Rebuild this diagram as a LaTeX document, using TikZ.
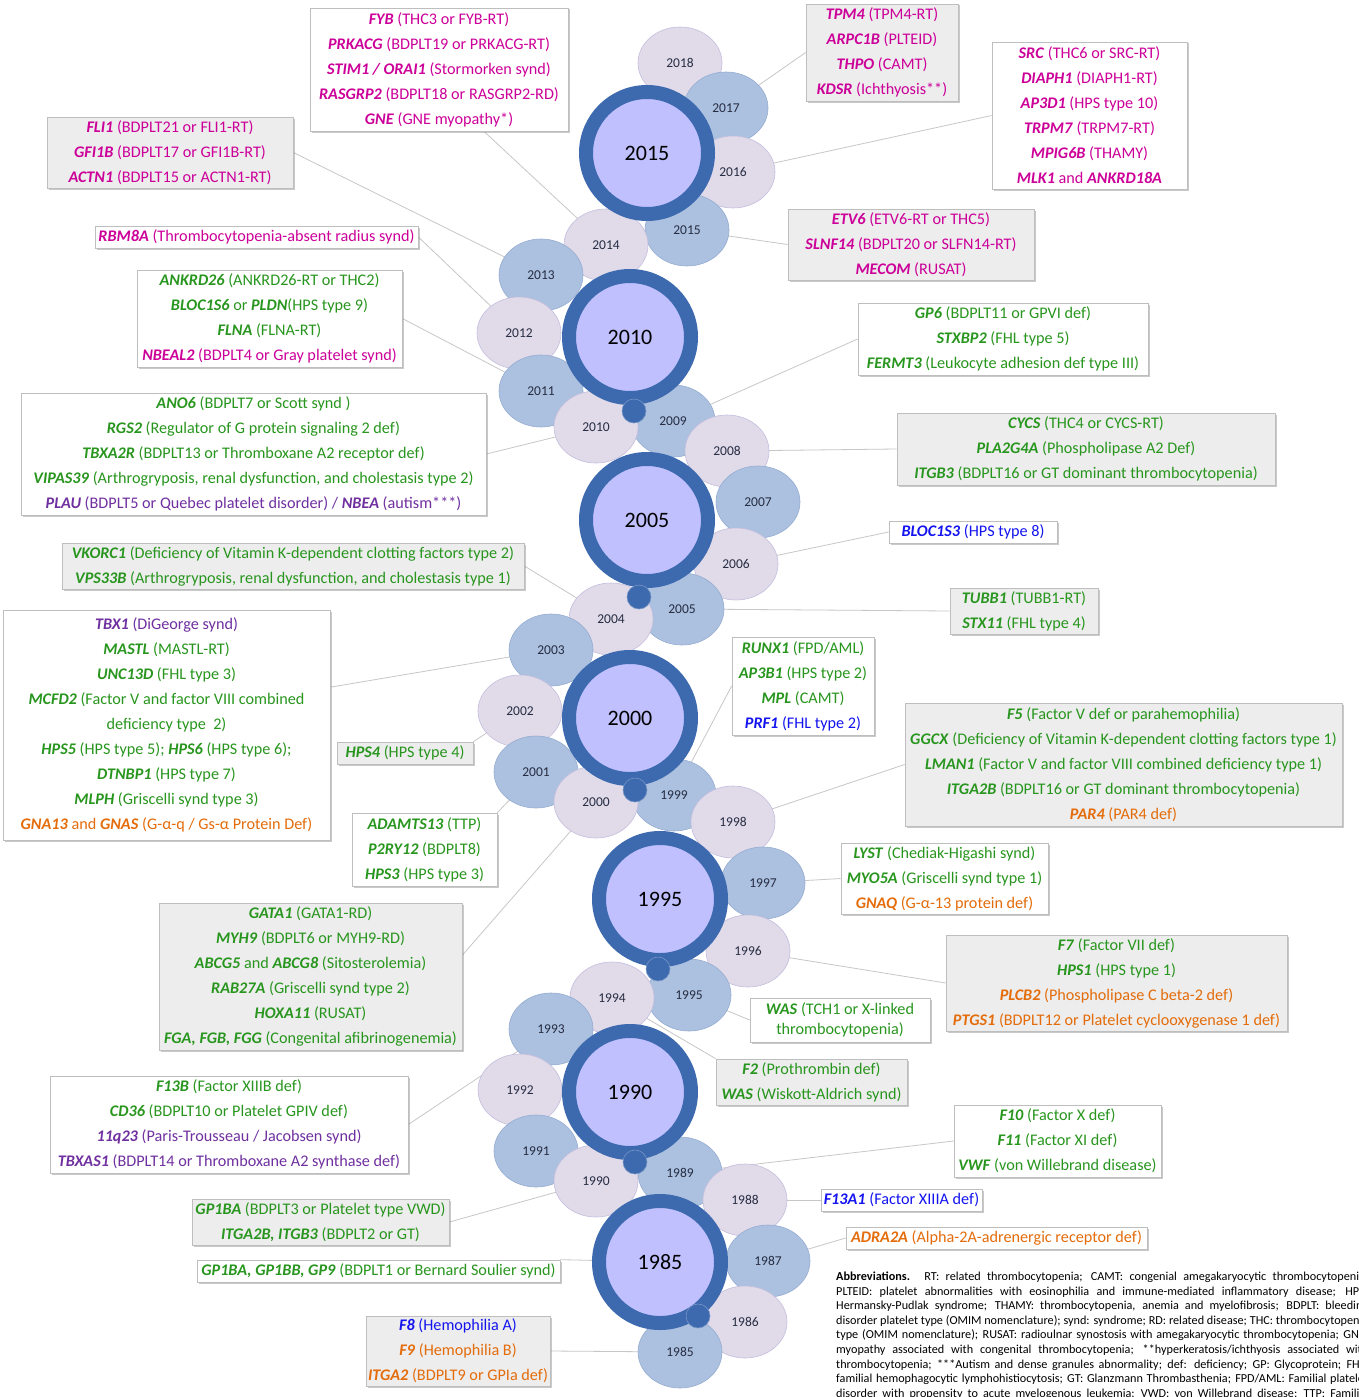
\documentclass[tikz,border=0pt]{standalone}
\usepackage{fontspec}
\setmainfont{Carlito}
\usetikzlibrary{shapes.geometric,shadows}
\definecolor{mag}{RGB}{204,0,153}
\definecolor{grn}{RGB}{40,150,30}
\definecolor{pur}{RGB}{112,48,160}
\definecolor{blu}{RGB}{20,20,240}
\definecolor{org}{RGB}{228,108,10}
\definecolor{ringc}{RGB}{61,105,174}
\definecolor{innerc}{RGB}{192,192,255}
\definecolor{lav}{RGB}{224,218,233}
\definecolor{lavedge}{RGB}{196,190,222}
\definecolor{stb}{RGB}{171,193,223}
\definecolor{stbedge}{RGB}{150,172,210}
\definecolor{boxgray}{RGB}{237,237,237}
\definecolor{edgegray}{RGB}{190,190,190}
\definecolor{yeartxt}{RGB}{38,44,66}
\newcommand\gene[1]{\textbf{\textit{#1}}}
\newcommand\gl[2]{\gene{#1} #2}
\pgfdeclarelayer{background}
\pgfsetlayers{background,main}
\begin{document}
\begin{tikzpicture}[x=1pt,y=-1pt,
  lbox/.style={draw=edgegray, line width=0.7pt, inner sep=0pt, align=center,
    font=\fontsize{16.2}{25}\selectfont,
    drop shadow={shadow xshift=1.5pt,shadow yshift=-1.5pt,opacity=0.35,fill=black!60}},
  wbox/.style={lbox, fill=white},
  gbox/.style={lbox, fill=boxgray},
  yr/.style={ellipse, minimum width=84pt, minimum height=72pt, inner sep=0pt,
    font=\fontsize{13.5}{14}\selectfont, text=yeartxt, line width=0.6pt},
  ylav/.style={yr, fill=lav, draw=lavedge},
  ystb/.style={yr, fill=stb, draw=stbedge},
  big/.style={circle, draw=ringc, line width=14pt, fill=innerc, minimum size=122pt,
    inner sep=0pt, font=\fontsize{22}{24}\selectfont},
  dot/.style={circle, fill=ringc, draw=ringc!70!white, line width=0.6pt, minimum size=24pt, inner sep=0pt},
  conn/.style={draw=black!22, line width=0.8pt},
  abl/.style={anchor=base west, inner sep=0pt, font=\fontsize{12.2}{14}\selectfont}
]
\useasboundingbox (0,0) rectangle (1358,1397);
\clip (0,0) rectangle (1358,1397);

% ---------- small year ellipses ----------
\node[ylav] (s2018) at (680,63) {2018};
\node[ystb] (s2017) at (726,108) {2017};
\node[ylav] (s2016) at (733,172) {2016};
\node[ystb] (s2015) at (687,230) {2015};
\node[ylav] (s2014) at (606,245) {2014};
\node[ystb] (s2013) at (541,275) {2013};
\node[ylav] (s2012) at (519,333) {2012};
\node[ystb] (s2011) at (541,391) {2011};
\node[ystb] (s2009) at (673,421) {2009};
\node[ylav] (s2010) at (596,427) {2010};
\node[ylav] (s2008) at (727,451) {2008};
\node[ystb] (s2007) at (758,502) {2007};
\node[ylav] (s2006) at (736,564) {2006};
\node[ystb] (s2005) at (682,609) {2005};
\node[ylav] (s2004) at (611,619) {2004};
\node[ystb] (s2003) at (551,650) {2003};
\node[ylav] (s2002) at (520,711) {2002};
\node[ystb] (s2001) at (536,772) {2001};
\node[ystb] (s1999) at (674,795) {1999};
\node[ylav] (s2000) at (596,802) {2000};
\node[ylav] (s1998) at (733,822) {1998};
\node[ystb] (s1997) at (763,883) {1997};
\node[ylav] (s1996) at (748,951) {1996};
\node[ystb] (s1995) at (689,995) {1995};
\node[ylav] (s1994) at (612,998) {1994};
\node[ystb] (s1993) at (551,1029) {1993};
\node[ylav] (s1992) at (520,1090) {1992};
\node[ystb] (s1991) at (536,1151) {1991};
\node[ystb] (s1989) at (680,1173) {1989};
\node[ylav] (s1990) at (596,1181) {1990};
\node[ylav] (s1988) at (745,1200) {1988};
\node[ystb] (s1987) at (768,1261) {1987};
\node[ylav] (s1986) at (745,1322) {1986};
\node[ystb] (s1985) at (680,1352) {1985};

% ---------- big circles ----------
\node[big] (b2015) at (647,153) {2015};
\node[big] (b2010) at (630,337) {2010};
\node[big] (b2005) at (647,520) {2005};
\node[big] (b2000) at (630,718) {2000};
\node[big] (b1995) at (660,899) {1995};
\node[big] (b1990) at (630,1092) {1990};
\node[big] (b1985) at (660,1262) {1985};

% ---------- dots ----------
\node[dot] (d1) at (634,411) {};
\node[dot] (d2) at (639,597) {};
\node[dot] (d3) at (635,790) {};
\node[dot] (d4) at (658,969) {};
\node[dot] (d5) at (635,1162) {};
\node[dot] (d6) at (698,1316) {};

% ---------- label boxes ----------
\node[wbox, text=mag, minimum width=258pt, minimum height=123pt] (fyb) at (439,69.5) {
\gl{FYB}{(THC3 or FYB-RT)}\\
\gl{PRKACG}{(BDPLT19 or PRKACG-RT)}\\
\gl{STIM1 / ORAI1}{(Stormorken synd)}\\
\gl{RASGRP2}{(BDPLT18 or RASGRP2-RD)}\\
\gl{GNE}{(GNE myopathy*)}};

\node[gbox, text=mag, minimum width=152pt, minimum height=97pt] (tpm4) at (882,52.5) {
\gl{TPM4}{(TPM4-RT)}\\
\gl{ARPC1B}{(PLTEID)}\\
\gl{THPO}{(CAMT)}\\
\gl{KDSR}{(Ichthyosis**)}};

\node[wbox, text=mag, minimum width=195pt, minimum height=147pt] (src) at (1089.5,115.5) {
\gl{SRC}{(THC6 or SRC-RT)}\\
\gl{DIAPH1}{(DIAPH1-RT)}\\
\gl{AP3D1}{(HPS type 10)}\\
\gl{TRPM7}{(TRPM7-RT)}\\
\gl{MPIG6B}{(THAMY)}\\
\gene{MLK1} and \gene{ANKRD18A}};

\node[gbox, text=mag, minimum width=246pt, minimum height=71pt] (fli1) at (170,152.5) {
\gl{FLI1}{(BDPLT21 or FLI1-RT)}\\
\gl{GFI1B}{(BDPLT17 or GFI1B-RT)}\\
\gl{ACTN1}{(BDPLT15 or ACTN1-RT)}};

\node[gbox, text=mag, minimum width=246pt, minimum height=71pt] (etv6) at (911,244.5) {
\gl{ETV6}{(ETV6-RT or THC5)}\\
\gl{SLNF14}{(BDPLT20 or SLFN14-RT)}\\
\gl{MECOM}{(RUSAT)}};

\node[wbox, text=mag, minimum width=323pt, minimum height=22pt] (rbm8a) at (256.5,237) {
\gl{RBM8A}{(Thrombocytopenia-absent radius synd)}};

\node[wbox, text=grn, minimum width=265pt, minimum height=97pt] (ankrd26) at (269.5,318.5) {
\gl{ANKRD26}{(ANKRD26-RT or THC2)}\\
\gene{BLOC1S6} or \gene{PLDN}(HPS type 9)\\
\gl{FLNA}{(FLNA-RT)}\\
\textcolor{mag}{\gl{NBEAL2}{(BDPLT4 or Gray platelet synd)}}};

\node[wbox, text=grn, minimum width=465pt, minimum height=122pt] (ano6) at (253.5,454) {
\gl{ANO6}{(BDPLT7 or Scott synd )}\\
\gl{RGS2}{(Regulator of G protein signaling 2 def)}\\
\gl{TBXA2R}{(BDPLT13 or Thromboxane A2 receptor def)}\\
\gl{VIPAS39}{(Arthrogryposis, renal dysfunction, and cholestasis type 2)}\\
\textcolor{pur}{\gl{PLAU}{(BDPLT5 or Quebec platelet disorder) /} \gl{NBEA}{(autism***)}}};

\node[wbox, text=grn, minimum width=290pt, minimum height=72pt] (gp6) at (1003,339) {
\gl{GP6}{(BDPLT11 or GPVI def)}\\
\gl{STXBP2}{(FHL type 5)}\\
\gl{FERMT3}{(Leukocyte adhesion def type III)}};

\node[gbox, text=grn, minimum width=378pt, minimum height=72pt] (cycs) at (1086,449) {
\gl{CYCS}{(THC4 or CYCS-RT)}\\
\gl{PLA2G4A}{(Phospholipase A2 Def)}\\
\gl{ITGB3}{(BDPLT16 or GT dominant thrombocytopenia)}};

\node[wbox, text=blu, minimum width=168pt, minimum height=22pt] (bloc1s3) at (973,532) {
\gl{BLOC1S3}{(HPS type 8)}};

\node[gbox, text=grn, minimum width=462pt, minimum height=46pt] (vkorc1) at (293,566) {
\gl{VKORC1}{(Deficiency of Vitamin K-dependent clotting factors type 2)}\\
\gl{VPS33B}{(Arthrogryposis, renal dysfunction, and cholestasis type 1)}};

\node[gbox, text=grn, minimum width=148pt, minimum height=46pt] (tubb1) at (1024,611) {
\gl{TUBB1}{(TUBB1-RT)}\\
\gl{STX11}{(FHL type 4)}};

\node[wbox, text=grn, minimum width=327pt, minimum height=230pt] (tbx1) at (166.5,725) {
\textcolor{pur}{\gl{TBX1}{(DiGeorge synd)}}\\
\gl{MASTL}{(MASTL-RT)}\\
\gl{UNC13D}{(FHL type 3)}\\
\gl{MCFD2}{(Factor V and factor VIII combined}\\
deficiency type~~2)\\
\gl{HPS5}{(HPS type 5);} \gl{HPS6}{(HPS type 6);}\\
\gl{DTNBP1}{(HPS type 7)}\\
\gl{MLPH}{(Griscelli synd type 3)}\\
\textcolor{org}{\gene{GNA13} and \gene{GNAS} (G-α-q / Gs-α Protein Def)}};

\node[wbox, text=grn, minimum width=142pt, minimum height=98pt] (runx1) at (803,686) {
\gl{RUNX1}{(FPD/AML)}\\
\gl{AP3B1}{(HPS type 2)}\\
\gl{MPL}{(CAMT)}\\
\textcolor{blu}{\gl{PRF1}{(FHL type 2)}}};

\node[gbox, text=grn, minimum width=136pt, minimum height=22pt] (hps4) at (405,753) {
\gl{HPS4}{(HPS type 4)}};

\node[gbox, text=grn, minimum width=437pt, minimum height=123pt] (f5) at (1123.5,764.5) {
\gl{F5}{(Factor V def or parahemophilia)}\\
\gl{GGCX}{(Deficiency of Vitamin K-dependent clotting factors type 1)}\\
\gl{LMAN1}{(Factor V and factor VIII combined deficiency type 1)}\\
\gl{ITGA2B}{(BDPLT16 or GT dominant thrombocytopenia)}\\
\textcolor{org}{\gl{PAR4}{(PAR4 def)}}};

\node[wbox, text=grn, minimum width=145pt, minimum height=73pt] (adamts13) at (424.5,849.5) {
\gl{ADAMTS13}{(TTP)}\\
\gl{P2RY12}{(BDPLT8)}\\
\gl{HPS3}{(HPS type 3)}};

\node[wbox, text=grn, minimum width=207pt, minimum height=71pt] (lyst) at (944.5,878.5) {
\gl{LYST}{(Chediak-Higashi synd)}\\
\gl{MYO5A}{(Griscelli synd type 1)}\\
\textcolor{org}{\gl{GNAQ}{(G-α-13 protein def)}}};

\node[gbox, text=grn, minimum width=303pt, minimum height=147pt] (gata1) at (310.5,976.5) {
\gl{GATA1}{(GATA1-RD)}\\
\gl{MYH9}{(BDPLT6 or MYH9-RD)}\\
\gene{ABCG5} and \gene{ABCG8} (Sitosterolemia)\\
\gl{RAB27A}{(Griscelli synd type 2)}\\
\gl{HOXA11}{(RUSAT)}\\
\gl{FGA, FGB, FGG}{(Congenital afibrinogenemia)}};

\node[gbox, text=grn, minimum width=341pt, minimum height=96pt] (f7) at (1116.5,983) {
\gl{F7}{(Factor VII def)}\\
\gl{HPS1}{(HPS type 1)}\\
\textcolor{org}{\gl{PLCB2}{(Phospholipase C beta-2 def)}}\\
\textcolor{org}{\gl{PTGS1}{(BDPLT12 or Platelet cyclooxygenase 1 def)}}};

\node[wbox, text=grn, minimum width=180pt, minimum height=44pt, font=\fontsize{16.2}{20}\selectfont] (was) at (840,1020) {
\gl{WAS}{(TCH1 or X-linked}\\
thrombocytopenia)};

\node[gbox, text=grn, minimum width=191pt, minimum height=46pt] (f2) at (811.5,1082) {
\gl{F2}{(Prothrombin def)}\\
\gl{WAS}{(Wiskott-Aldrich synd)}};

\node[wbox, text=grn, minimum width=358pt, minimum height=97pt] (f13b) at (229,1124.5) {
\gl{F13B}{(Factor XIIIB def)}\\
\gl{CD36}{(BDPLT10 or Platelet GPIV def)}\\
\textcolor{pur}{\gl{11q23}{(Paris-Trousseau / Jacobsen synd)}}\\
\textcolor{pur}{\gl{TBXAS1}{(BDPLT14 or Thromboxane A2 synthase def)}}};

\node[wbox, text=grn, minimum width=207pt, minimum height=72pt] (f10) at (1057.5,1141) {
\gl{F10}{(Factor X def)}\\
\gl{F11}{(Factor XI def)}\\
\gl{VWF}{(von Willebrand disease)}};

\node[gbox, text=grn, minimum width=257pt, minimum height=46pt] (gp1ba) at (320.5,1222) {
\gl{GP1BA}{(BDPLT3 or Platelet type VWD)}\\
\gl{ITGA2B, ITGB3}{(BDPLT2 or GT)}};

\node[wbox, text=blu, minimum width=161pt, minimum height=22pt] (f13a1) at (901.5,1200) {
\gl{F13A1}{(Factor XIIIA def)}};

\node[wbox, text=org, minimum width=301pt, minimum height=22pt] (adra2a) at (996.5,1238) {
\gl{ADRA2A}{(Alpha-2A-adrenergic receptor def)}};

\node[wbox, text=grn, minimum width=363pt, minimum height=22pt] (gpbss) at (378.5,1271) {
\gl{GP1BA, GP1BB, GP9}{(BDPLT1 or Bernard Soulier synd)}};

\node[gbox, text=org, minimum width=184pt, minimum height=70pt] (f8) at (458,1351) {
\textcolor{blu}{\gl{F8}{(Hemophilia A)}}\\
\gl{F9}{(Hemophilia B)}\\
\gl{ITGA2}{(BDPLT9 or GPIa def)}};

% ---------- abbreviations ----------
\node[abl] (ab1) at (836,1280.5) {\makebox[532pt][s]{\textbf{Abbreviations.} RT: related thrombocytopenia; CAMT: congenial amegakaryocytic thrombocytopenia;}};
\node[abl] (ab2) at (836,1295.1) {\makebox[532pt][s]{PLTEID: platelet abnormalities with eosinophilia and immune-mediated inflammatory disease; HPS:}};
\node[abl] (ab3) at (836,1309.7) {\makebox[532pt][s]{Hermansky-Pudlak syndrome; THAMY: thrombocytopenia, anemia and myelofibrosis; BDPLT: bleeding}};
\node[abl] (ab4) at (836,1324.3) {\makebox[532pt][s]{disorder platelet type (OMIM nomenclature); synd: syndrome; RD: related disease; THC: thrombocytopenia}};
\node[abl] (ab5) at (836,1338.9) {\makebox[532pt][s]{type (OMIM nomenclature); RUSAT: radioulnar synostosis with amegakaryocytic thrombocytopenia; GNE:}};
\node[abl] (ab6) at (836,1353.5) {\makebox[532pt][s]{myopathy associated with congenital thrombocytopenia; **hyperkeratosis/ichthyosis associated with}};
\node[abl] (ab7) at (836,1368.1) {\makebox[532pt][s]{thrombocytopenia; ***Autism and dense granules abnormality; def: deficiency; GP: Glycoprotein; FHL:}};
\node[abl] (ab8) at (836,1382.7) {\makebox[532pt][s]{familial hemophagocytic lymphohistiocytosis; GT: Glanzmann Thrombasthenia; FPD/AML: Familial platelet}};
\node[abl] (ab9) at (836,1397.3) {\makebox[532pt][s]{disorder with propensity to acute myelogenous leukemia; VWD: von Willebrand disease; TTP: Familial}};

% ---------- connectors ----------
\begin{pgfonlayer}{background}
\fill[white] (0,0) rectangle (1358,1397);
\draw[conn] (fyb.-54) -- (s2014.center);
\draw[conn] (tpm4.west) -- (s2017.center);
\draw[conn] (src.west) -- (s2016.center);
\draw[conn] (fli1.east) -- (s2013.center);
\draw[conn] (etv6.west) -- (s2015.center);
\draw[conn] (rbm8a.east) -- (s2012.center);
\draw[conn] (ankrd26.east) -- (s2011.center);
\draw[conn] (ano6.east) -- (s2010.center);
\draw[conn] (gp6.west) -- (s2009.center);
\draw[conn] (cycs.west) -- (s2008.center);
\draw[conn] (bloc1s3.west) -- (s2006.center);
\draw[conn] (vkorc1.east) -- (s2004.center);
\draw[conn] (tubb1.west) -- (s2005.center);
\draw[conn] (tbx1.13) -- (s2003.center);
\draw[conn] (hps4.north east) -- (s2002.center);
\draw[conn] (runx1.west) -- (s1999.center);
\draw[conn] (f5.west) -- (s1998.center);
\draw[conn] (adamts13.north east) -- (s2001.center);
\draw[conn] (lyst.west) -- (s1997.center);
\draw[conn] (gata1.8) -- (s2000.center);
\draw[conn] (f7.west) -- (s1996.center);
\draw[conn] (was.west) -- (s1995.center);
\draw[conn] (f2.north west) -- (s1994.center);
\draw[conn] (f13b.east) -- (s1993.center);
\draw[conn] (f10.west) -- (s1989.center);
\draw[conn] (gp1ba.east) -- (s1990.center);
\draw[conn] (f13a1.west) -- (s1988.center);
\draw[conn] (adra2a.west) -- (s1987.center);
\draw[conn] (gpbss.north east) -- (b1985.center);
\draw[conn] (f8.east) -- (s1985.center);
\end{pgfonlayer}
\end{tikzpicture}
\end{document}
